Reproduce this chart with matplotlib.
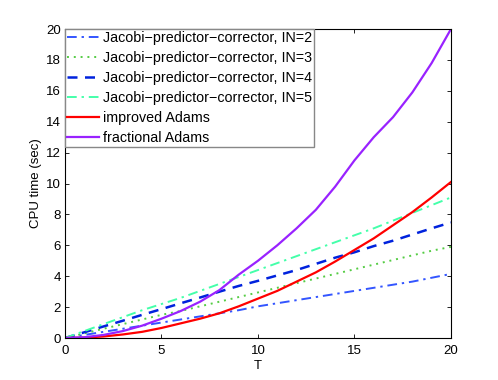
import matplotlib
matplotlib.use("Agg")
import matplotlib.pyplot as plt

plt.rcParams['font.family'] = ['Liberation Sans', 'DejaVu Sans']

T = list(range(0, 21))
# CPU time (sec)
jpc_in2 = [0, 0.2, 0.4, 0.6, 0.8, 1.0, 1.2, 1.4, 1.6, 1.8, 2.05, 2.25, 2.45, 2.65, 2.85, 3.05, 3.25, 3.45, 3.65, 3.9, 4.15]
jpc_in3 = [0, 0.3, 0.6, 0.9, 1.2, 1.5, 1.75, 2.05, 2.35, 2.65, 2.95, 3.25, 3.55, 3.85, 4.15, 4.45, 4.75, 5.05, 5.35, 5.65, 5.9]
jpc_in4 = [0, 0.37, 0.75, 1.12, 1.5, 1.87, 2.25, 2.62, 3.0, 3.37, 3.7, 4.05, 4.4, 4.8, 5.2, 5.55, 5.95, 6.3, 6.7, 7.1, 7.48]
jpc_in5 = [0, 0.45, 0.9, 1.35, 1.8, 2.2, 2.6, 3.05, 3.5, 3.95, 4.4, 4.85, 5.3, 5.75, 6.2, 6.65, 7.1, 7.6, 8.1, 8.6, 9.1]
improved = [0, 0.03, 0.1, 0.23, 0.4, 0.65, 0.95, 1.25, 1.6, 2.05, 2.55, 3.05, 3.65, 4.25, 4.95, 5.7, 6.45, 7.3, 8.15, 9.1, 10.1]
fractional = [0, 0.05, 0.2, 0.45, 0.8, 1.25, 1.75, 2.35, 3.1, 4.1, 5.0, 6.0, 7.1, 8.3, 9.8, 11.5, 13.0, 14.3, 15.9, 17.8, 20.0]

labels = ['Jacobi\u2212predictor\u2212corrector, IN=2',
          'Jacobi\u2212predictor\u2212corrector, IN=3',
          'Jacobi\u2212predictor\u2212corrector, IN=4',
          'Jacobi\u2212predictor\u2212corrector, IN=5',
          'improved Adams',
          'fractional Adams']

fig = plt.figure(figsize=(4.98, 3.8), dpi=100)
ax = fig.add_axes([0.1305, 0.1105, 0.775, 0.813])

ax.plot(T, jpc_in2, color='#3355ff', linestyle=(0, (5, 2.5, 1.2, 2.5)), lw=1.4, label=labels[0])
ax.plot(T, jpc_in3, color='#55cc44', linestyle=(0, (1, 2.5)), lw=1.4, label=labels[1])
ax.plot(T, jpc_in4, color='#0022dd', linestyle=(0, (4, 3)), lw=1.8, label=labels[2])
ax.plot(T, jpc_in5, color='#44ffaa', linestyle=(0, (5, 2.5, 1.2, 2.5)), lw=1.4, label=labels[3])
ax.plot(T, improved, color='#ff0000', lw=1.6, label=labels[4])
ax.plot(T, fractional, color='#9922ff', lw=1.6, label=labels[5])

ax.set_xlim(0, 20)
ax.set_ylim(0, 20)
ax.set_xticks([0, 5, 10, 15, 20])
ax.set_yticks(range(0, 21, 2))
ax.tick_params(direction='in', top=True, right=True, labelsize=9.5, length=3, width=0.6, pad=3)
ax.tick_params(axis='x', pad=5)
for s in ax.spines.values():
    s.set_linewidth(0.8)
ax.set_xlabel('T', fontsize=9.5, labelpad=2)
ax.set_ylabel('CPU time (sec)', fontsize=9.5, labelpad=3)

leg = ax.legend(loc='upper left', bbox_to_anchor=(0, 1), borderaxespad=0,
                fontsize=10.3, handlelength=2.25, handletextpad=0.25,
                labelspacing=0.42, borderpad=0.15, fancybox=False,
                framealpha=1)
leg.get_frame().set_edgecolor('#888888')
leg.get_frame().set_linewidth(1.0)

fig.savefig('out.png', dpi=100)
